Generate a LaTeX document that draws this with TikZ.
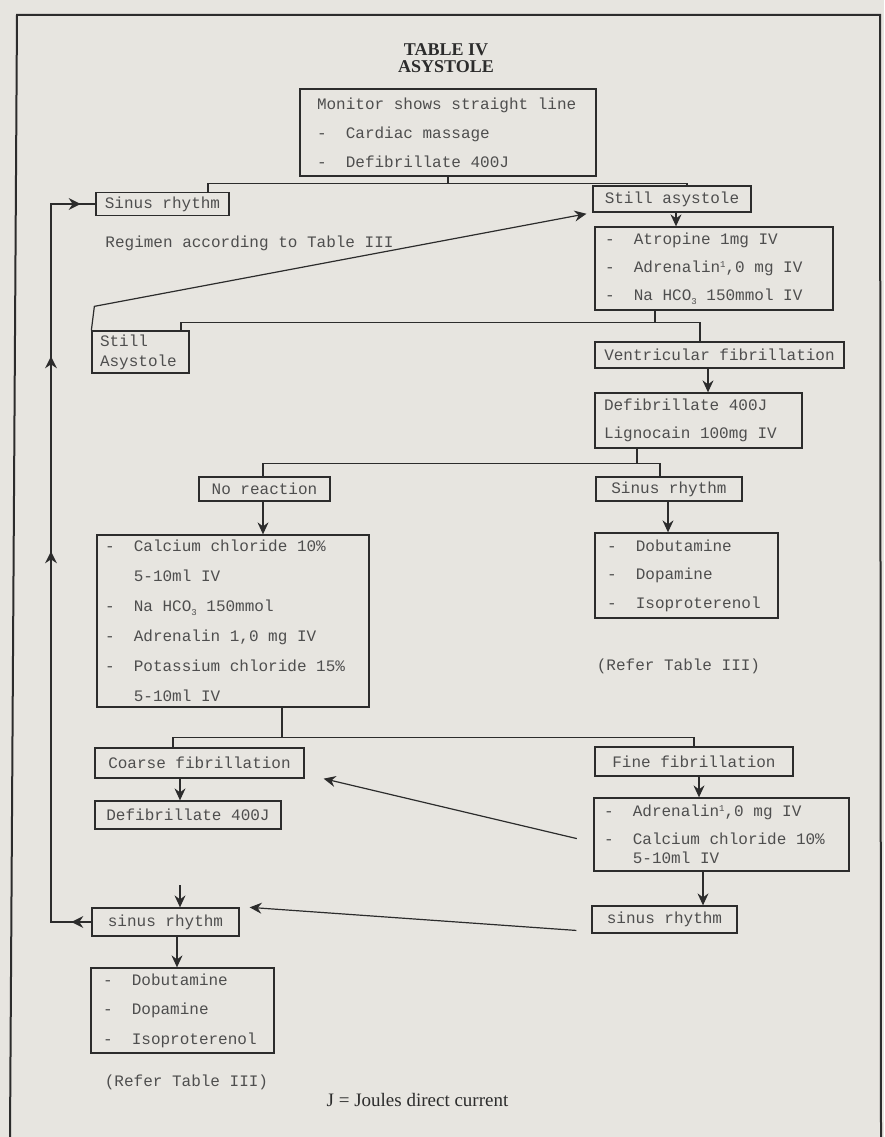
\documentclass[tikz,border=0pt]{standalone}
\usepackage{amsmath}
\usepackage{fontspec}
\setmainfont{Liberation Serif}
\newfontfamily\typed{Liberation Mono}
\usetikzlibrary{arrows.meta,decorations.markings}
\definecolor{paper}{HTML}{E7E5E0}
\definecolor{ink}{HTML}{2C2C2C}
\definecolor{typeink}{HTML}{4E4E4E}
\newcommand\fullspace{\spaceskip=0pt\xspaceskip=0pt\relax}

\tikzset{
  box/.style={draw=ink,line width=1.3pt,text=typeink,inner sep=0pt,
    font={\typed\fontsize{16}{29}\selectfont}},
  listbox/.style={box,align=left,inner xsep=8pt,execute at begin node=\fullspace},
  typetext/.style={text=typeink,font={\typed\fontsize{16}{29}\selectfont}},
  arr/.style={line width=1.2pt,-{Stealth[length=12pt,width=11pt,inset=4pt]}},
  backline/.style={line width=1.2pt,postaction={decorate},
    decoration={markings,
      mark=at position 20pt with {\arrow{Stealth[length=12pt,width=12pt,inset=4pt]}},
      mark=at position 411pt with {\arrow{Stealth[length=12pt,width=12pt,inset=4pt]}},
      mark=at position 606pt with {\arrow{Stealth[length=12pt,width=12pt,inset=4pt]}},
      mark=at position 788pt with {\arrow{Stealth[length=12pt,width=12pt,inset=4pt]}}}}
}

\begin{document}
\begin{tikzpicture}[x=1pt,y=-1pt,color=ink,line width=1.2pt]
      \fill[paper] (0,0) rectangle (884,1137);
      \useasboundingbox (0,0) rectangle (884,1137);
      \draw[line width=2pt] (10,1137) -- (17,15) -- (880,15) -- (881,1137);

      \node[align=center,font={\bfseries\fontsize{18}{17}\selectfont}] (0) at (446,58) {TABLE IV\\ASYSTOLE};

      \node[listbox,inner xsep=17pt,text width=262pt,minimum height=87pt] (1) at (448,132.5)
        {Monitor shows straight line\\-~~Cardiac massage\\-~~Defibrillate 400J};
      \node[box,minimum width=133pt,minimum height=23pt] (2) at (162.5,204) {Sinus rhythm};
      \node[box,minimum width=158pt,minimum height=26pt] (3) at (672,199) {Still asystole};
      \node[listbox,inner xsep=10pt,text width=218pt,minimum height=83pt,
        font={\typed\fontsize{16}{28}\selectfont}] (4) at (714,268.5)
        {-~~Atropine 1mg IV\\-~~Adrenalin\raisebox{5pt}{\small 1},0 mg IV\\-~~Na HCO\raisebox{-4pt}{\small 3} 150mmol IV};
      \node[typetext] (5) at (249.5,243) {Regimen according to Table III};
      \node[listbox,text width=81pt,minimum height=42pt,
        font={\typed\fontsize{16}{20}\selectfont}] (6) at (140.5,352) {Still\\Asystole};
      \node[box,minimum width=249pt,minimum height=26pt] (7) at (719.5,355) {Ventricular fibrillation};
      \node[listbox,inner xsep=9pt,text width=189pt,minimum height=55pt,
        font={\typed\fontsize{16}{28}\selectfont}] (8) at (698.5,420.5)
        {Defibrillate 400J\\Lignocain 100mg IV};
      \node[box,minimum width=131pt,minimum height=24pt] (9) at (264.5,489) {No reaction};
      \node[box,minimum width=146pt,minimum height=24pt] (10) at (669,489) {Sinus rhythm};
      \node[listbox,text width=256pt,minimum height=172pt,
        font={\typed\fontsize{16}{30}\selectfont}] (11) at (233,621)
        {-~~Calcium chloride 10\%\\\phantom{-~~}5-10ml IV\\-~~Na HCO\raisebox{-4pt}{\small 3} 150mmol\\-~~Adrenalin 1,0 mg IV\\-~~Potassium chloride 15\%\\\phantom{-~~}5-10ml IV};
      \node[listbox,inner xsep=12pt,text width=159pt,minimum height=85pt,
        font={\typed\fontsize{16}{28.5}\selectfont}] (12) at (686.5,575.5)
        {-~~Dobutamine\\-~~Dopamine\\-~~Isoproterenol};
      \node[typetext] (13) at (678.5,666) {(Refer Table III)};
      \node[box,minimum width=209pt,minimum height=30pt] (14) at (199.5,763) {Coarse fibrillation};
      \node[box,minimum width=186pt,minimum height=28pt] (15) at (188,815) {Defibrillate 400J};
      \node[box,minimum width=198pt,minimum height=29pt] (16) at (694,761.5) {Fine fibrillation};
      \node[listbox,inner xsep=10pt,text width=235pt,minimum height=73pt,
        font={\typed\fontsize{16}{28}\selectfont}] (17) at (721.5,834.5)
        {-~~Adrenalin\raisebox{5pt}{\small 1},0 mg IV\\-~~Calcium chloride 10\%\\[-9pt]\phantom{-~~}5-10ml IV};
      \node[box,minimum width=145pt,minimum height=27pt] (18) at (664.5,919.5) {sinus rhythm};
      \node[box,minimum width=147pt,minimum height=28pt] (19) at (165.5,922) {sinus rhythm};
      \node[listbox,inner xsep=12pt,text width=159pt,minimum height=85pt,
        font={\typed\fontsize{16}{29.5}\selectfont}] (20) at (182.5,1010.5)
        {-~~Dobutamine\\-~~Dopamine\\-~~Isoproterenol};
      \node[typetext] (21) at (186.5,1082) {(Refer Table III)};
      \node[font={\fontsize{19}{22}\selectfont}] (22) at (417.5,1100) {J = Joules direct current};

      \draw (1.south) -- ++(0,7) coordinate (a);
      \draw (2.north -| 208,0) |- (a) -| (3.north -| 687,0);
      \draw[arr] (3.south -| 676,0) -- (4.north -| 676,0);
      \draw (4.south -| 655,0) -- ++(0,12) coordinate (b);
      \draw (6.north -| 181,0) |- (b) -| (7.north -| 700,0);
      \draw[arr,shorten >=6pt] (6.north west) -- ++(3,-24) -- (3.south west);
      \draw[arr] (7.south -| 708,0) -- (8.north -| 708,0);
      \draw (8.south -| 637,0) -- ++(0,15) coordinate (c);
      \draw (9.north -| 263,0) |- (c) -| (10.north -| 660,0);
      \draw[arr] (9.south -| 263,0) -- (11.north -| 263,0);
      \draw[arr] (10.south -| 668,0) -- (12.north -| 668,0);
      \draw (11.south -| 282,0) -- ++(0,30) coordinate (d);
      \draw (14.north -| 173,0) |- (d) -| (16.north -| 694,0);
      \draw[arr] (14.south -| 180,0) -- (15.north -| 180,0);
      \draw[arr] (16.south -| 699,0) -- (17.north -| 699,0);
      \draw[arr,shorten <=17pt] ([yshift=-8pt]17.west) -- ([xshift=19pt]14.south east);
      \draw[arr] (17.south -| 703,0) -- (18.north -| 703,0);
      \draw[arr,shorten <=15pt] ([yshift=-12pt]18.west) -- ([xshift=10pt]19.north east);
      \coordinate (e) at (180,885);
      \draw[arr] (e) -- (19.north -| 180,0);
      \draw[arr] (19.south -| 177,0) -- (20.north -| 177,0);
      \draw[backline] (19.west) -- (19.west -| 51,0) -- (2.west -| 51,0) -- (2.west);
    \end{tikzpicture}
\end{document}
